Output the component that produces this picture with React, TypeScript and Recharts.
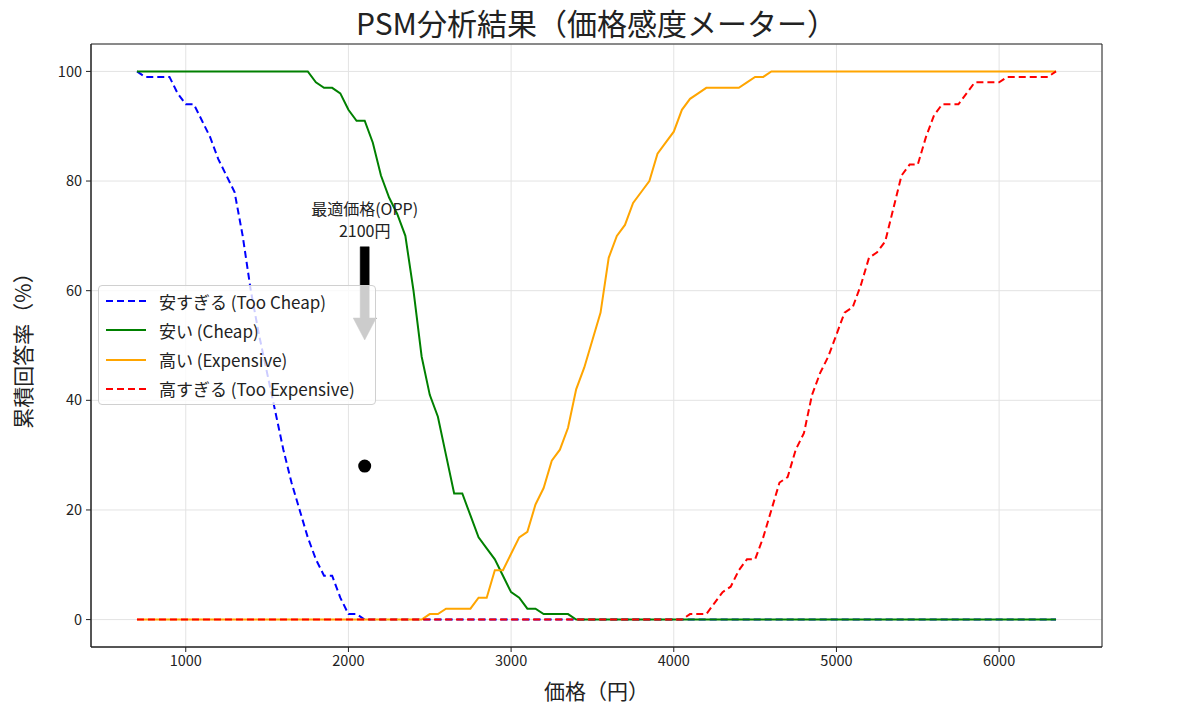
import React from 'react';
import {
  LineChart,
  Line,
  XAxis,
  YAxis,
  CartesianGrid,
  Legend,
  ReferenceDot,
  ReferenceLine,
  ReferenceArea,
} from 'recharts';

const prices = [
  700, 750, 800, 850, 900, 950, 1000, 1050, 1100, 1150, 1200, 1250, 1300, 1350, 1400, 1450,
  1500, 1550, 1600, 1650, 1700, 1750, 1800, 1850, 1900, 1950, 2000, 2050, 2100, 2150, 2200,
  2250, 2300, 2350, 2400, 2450, 2500, 2550, 2600, 2650, 2700, 2750, 2800, 2850, 2900, 2950,
  3000, 3050, 3100, 3150, 3200, 3250, 3300, 3350, 3400, 3450, 3500, 3550, 3600, 3650, 3700,
  3750, 3800, 3850, 3900, 3950, 4000, 4050, 4100, 4150, 4200, 4250, 4300, 4350, 4400, 4450,
  4500, 4550, 4600, 4650, 4700, 4750, 4800, 4850, 4900, 4950, 5000, 5050, 5100, 5150, 5200,
  5250, 5300, 5350, 5400, 5450, 5500, 5550, 5600, 5650, 5700, 5750, 5800, 5850, 5900, 5950,
  6000, 6050, 6100, 6150, 6200, 6250, 6300, 6350,
];

// 安すぎる (Too Cheap)
const tooCheap = [
  100, 99, 99, 99, 99, 96, 94, 94, 91, 88, 84, 81, 78, 70, 60, 52,
  45, 38, 31, 25, 20, 15, 11, 8, 8, 4, 1, 1, 0, 0, 0,
  0, 0, 0, 0, 0, 0, 0, 0, 0, 0, 0, 0, 0, 0, 0,
  0, 0, 0, 0, 0, 0, 0, 0, 0, 0, 0, 0, 0, 0, 0,
  0, 0, 0, 0, 0, 0, 0, 0, 0, 0, 0, 0, 0, 0, 0,
  0, 0, 0, 0, 0, 0, 0, 0, 0, 0, 0, 0, 0, 0, 0,
  0, 0, 0, 0, 0, 0, 0, 0, 0, 0, 0, 0, 0, 0, 0,
  0, 0, 0, 0, 0, 0, 0, 0,
];

// 安い (Cheap)
const cheap = [
  100, 100, 100, 100, 100, 100, 100, 100, 100, 100, 100, 100, 100, 100, 100, 100,
  100, 100, 100, 100, 100, 100, 98, 97, 97, 96, 93, 91, 91, 87, 81,
  77, 74, 70, 60, 48, 41, 37, 30, 23, 23, 19, 15, 13, 11, 8,
  5, 4, 2, 2, 1, 1, 1, 1, 0, 0, 0, 0, 0, 0, 0,
  0, 0, 0, 0, 0, 0, 0, 0, 0, 0, 0, 0, 0, 0, 0,
  0, 0, 0, 0, 0, 0, 0, 0, 0, 0, 0, 0, 0, 0, 0,
  0, 0, 0, 0, 0, 0, 0, 0, 0, 0, 0, 0, 0, 0, 0,
  0, 0, 0, 0, 0, 0, 0, 0,
];

// 高い (Expensive)
const expensive = [
  0, 0, 0, 0, 0, 0, 0, 0, 0, 0, 0, 0, 0, 0, 0, 0,
  0, 0, 0, 0, 0, 0, 0, 0, 0, 0, 0, 0, 0, 0, 0,
  0, 0, 0, 0, 0, 1, 1, 2, 2, 2, 2, 4, 4, 9, 9,
  12, 15, 16, 21, 24, 29, 31, 35, 42, 46, 51, 56, 66, 70, 72,
  76, 78, 80, 85, 87, 89, 93, 95, 96, 97, 97, 97, 97, 97, 98,
  99, 99, 100, 100, 100, 100, 100, 100, 100, 100, 100, 100, 100, 100, 100,
  100, 100, 100, 100, 100, 100, 100, 100, 100, 100, 100, 100, 100, 100, 100,
  100, 100, 100, 100, 100, 100, 100, 100,
];

// 高すぎる (Too Expensive)
const tooExpensive = [
  0, 0, 0, 0, 0, 0, 0, 0, 0, 0, 0, 0, 0, 0, 0, 0,
  0, 0, 0, 0, 0, 0, 0, 0, 0, 0, 0, 0, 0, 0, 0,
  0, 0, 0, 0, 0, 0, 0, 0, 0, 0, 0, 0, 0, 0, 0,
  0, 0, 0, 0, 0, 0, 0, 0, 0, 0, 0, 0, 0, 0, 0,
  0, 0, 0, 0, 0, 0, 0, 1, 1, 1, 3, 5, 6, 9, 11,
  11, 15, 20, 25, 26, 31, 34, 41, 45, 48, 52, 56, 57, 61, 66,
  67, 69, 75, 81, 83, 83, 88, 92, 94, 94, 94, 96, 98, 98, 98,
  98, 99, 99, 99, 99, 99, 99, 100,
];

const xTicks = [1000, 2000, 3000, 4000, 5000, 6000];
const yTicks = [0, 20, 40, 60, 80, 100];
const xDomain = [417.5, 6632.5];
const yDomain = [-5, 105];

const oppPrice = 2100;
const oppValue = 28;
const oppLabelLines = ['最適価格(OPP)', '2100円'];
const oppLabelY = 73.5;
const arrowStart = 68;
const arrowEnd = 51;

const titleText = 'PSM分析結果（価格感度メーター）';
const xLabelText = '価格（円）';
const yLabelText = '累積回答率（%）';

const series = [
  { key: 'tooCheap', name: '安すぎる (Too Cheap)', color: '#0000ff', dash: '7 4' },
  { key: 'cheap', name: '安い (Cheap)', color: '#008000', dash: undefined },
  { key: 'expensive', name: '高い (Expensive)', color: '#ffa500', dash: undefined },
  { key: 'tooExpensive', name: '高すぎる (Too Expensive)', color: '#ff0000', dash: '7 4' },
];

const data = prices.map((p, i) => ({
  price: p,
  tooCheap: tooCheap[i],
  cheap: cheap[i],
  expensive: expensive[i],
  tooExpensive: tooExpensive[i],
}));

const FONT = '"Noto Sans CJK JP", "Noto Sans", sans-serif';
const W = 1184;
const H = 704;
const PLOT_LEFT = 83;
const PLOT_TOP = 36;
const PLOT_W = 1011;
const PLOT_H = 603;

const renderLegend = () => (
  <div
    style={{
      position: 'relative',
      width: 276,
      height: 118,
      border: '1px solid #d0d0d0',
      borderRadius: 4,
      background: 'rgba(255,255,255,0.8)',
      fontFamily: FONT,
      fontSize: 17,
      color: '#222',
    }}
  >
    {series.map((s, i) => (
      <div
        key={s.key}
        style={{
          position: 'absolute',
          left: 0,
          top: 15 + i * 29.3 - 12,
          height: 24,
          display: 'flex',
          alignItems: 'center',
          whiteSpace: 'nowrap',
        }}
      >
        <svg width={60} height={24} style={{ display: 'block' }}>
          <line
            x1={7}
            x2={47}
            y1={12}
            y2={12}
            stroke={s.color}
            strokeWidth={2}
            strokeDasharray={s.dash}
          />
        </svg>
        <span>{s.name}</span>
      </div>
    ))}
  </div>
);

const ArrowShape = (props: any) => {
  const { x1, y1, y2 } = props;
  const x = x1;
  const top = Math.min(y1, y2);
  const tip = Math.max(y1, y2);
  const headLen = 22;
  const sh = 4.5;
  const hh = 11.5;
  const pts = [
    [x - sh, top],
    [x + sh, top],
    [x + sh, tip - headLen],
    [x + hh, tip - headLen],
    [x, tip],
    [x - hh, tip - headLen],
    [x - sh, tip - headLen],
  ]
    .map((p) => p.join(','))
    .join(' ');
  return <polygon points={pts} fill="#000" stroke="#000" strokeWidth={0.5} />;
};

const OppText = (props: any) => {
  const { cx, cy } = props;
  return (
    <g>
      {oppLabelLines.map((t, i) => (
        <text
          key={i}
          x={cx}
          y={cy - 9 + i * 22}
          textAnchor="middle"
          dominantBaseline="central"
          fontFamily={FONT}
          fontSize={16}
          fill="#222"
        >
          {t}
        </text>
      ))}
    </g>
  );
};

export default function App() {
  return (
    <div style={{ position: 'relative', width: W, height: H, fontFamily: FONT, background: '#fff' }}>
      <div
        style={{
          position: 'absolute',
          left: PLOT_LEFT,
          width: PLOT_W,
          top: -2,
          height: 32,
          lineHeight: '32px',
          textAlign: 'center',
          fontSize: 30,
          color: '#222',
          fontFamily: FONT,
        }}
      >
        {titleText}
      </div>
      <LineChart
        width={W}
        height={H}
        data={data}
        margin={{ top: PLOT_TOP, right: W - PLOT_LEFT - PLOT_W, left: 0, bottom: 0 }}
      >
        <CartesianGrid stroke="#e3e3e3" strokeWidth={1} />
        <XAxis
          type="number"
          dataKey="price"
          domain={xDomain}
          ticks={xTicks}
          allowDataOverflow
          height={H - PLOT_TOP - PLOT_H}
          tickSize={5}
          tickMargin={4}
          tick={{ fontSize: 14.5, fill: '#222', fontFamily: FONT }}
          stroke="#222"
          label={{
            content: () => (
              <text
                x={PLOT_LEFT + PLOT_W / 2}
                y={682}
                textAnchor="middle"
                dominantBaseline="central"
                fontSize={21}
                fontFamily={FONT}
                fill="#222"
              >
                {xLabelText}
              </text>
            ),
          }}
        />
        <YAxis
          type="number"
          domain={yDomain}
          ticks={yTicks}
          allowDataOverflow
          width={PLOT_LEFT}
          tickSize={5}
          tickMargin={4}
          tick={{ fontSize: 14.5, fill: '#222', fontFamily: FONT }}
          stroke="#222"
          label={{
            content: () => (
              <text
                x={14}
                y={PLOT_TOP + PLOT_H / 2}
                textAnchor="middle"
                dominantBaseline="central"
                fontSize={21}
                fontFamily={FONT}
                fill="#222"
                transform={`rotate(-90, 14, ${PLOT_TOP + PLOT_H / 2})`}
              >
                {yLabelText}
              </text>
            ),
          }}
        />
        {series.map((s) => (
          <Line
            key={s.key}
            type="linear"
            dataKey={s.key}
            name={s.name}
            stroke={s.color}
            strokeWidth={2}
            strokeDasharray={s.dash}
            dot={false}
            activeDot={false}
            isAnimationActive={false}
          />
        ))}
        <ReferenceArea
          x1={xDomain[0]}
          x2={xDomain[1]}
          y1={yDomain[0]}
          y2={yDomain[1]}
          fill="none"
          fillOpacity={0}
          stroke="#222"
          strokeWidth={1}
        />
        <ReferenceLine
          segment={[
            { x: oppPrice, y: arrowStart },
            { x: oppPrice, y: arrowEnd },
          ]}
          shape={ArrowShape}
        />
        <ReferenceDot x={oppPrice} y={oppLabelY} r={0} shape={OppText} />
        <ReferenceDot x={oppPrice} y={oppValue} r={6.5} fill="#000" stroke="none" />
        <Legend
          content={renderLegend}
          verticalAlign="middle"
          align="center"
          layout="horizontal"
          wrapperStyle={{ position: 'absolute', left: 90, top: 277, width: 278, height: 120 }}
        />
      </LineChart>
    </div>
  );
}
